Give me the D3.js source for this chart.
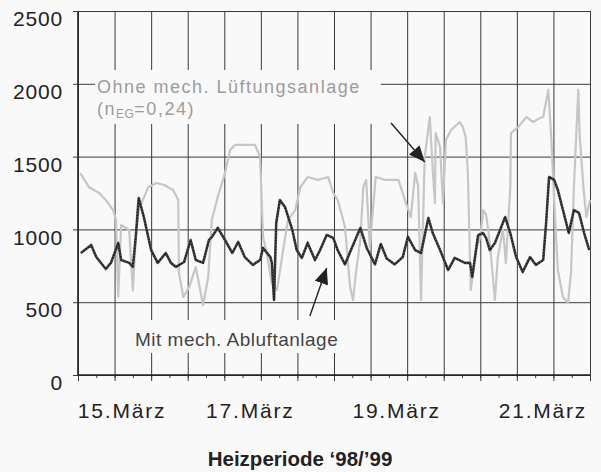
<!DOCTYPE html>
<html>
<head>
<meta charset="utf-8">
<style>
  body { margin: 0; background: #f9f9f9; }
  svg { display: block; font-family: "Liberation Sans", Arial, sans-serif; }
  .grid line { stroke: #3a3a3a; stroke-width: 1; }
  .grid path, .ticks path, .labels path { display: none; }
  .ticks line { stroke: #3a3a3a; }
</style>
</head>
<body>
<div id="chart"></div>
<script src="https://d3js.org/d3.v7.min.js"></script>
<script>
// Tage im März (Dezimalwerte), gelesen aus der Grafik
var tageMit = [14.54,14.68,14.75,14.88,14.95,15.05,15.09,15.20,15.25,15.29,15.33,15.40,15.50,15.59,15.70,15.77,15.84,15.95,
  16.04,16.11,16.21,16.29,16.33,16.41,16.51,16.61,16.69,16.78,16.89,16.99,17.03,17.13,17.15,17.18,17.21,17.26,17.33,17.43,
  17.49,17.56,17.64,17.74,17.81,17.90,17.99,18.05,18.15,18.25,18.36,18.45,18.56,18.64,18.72,18.83,18.94,19.01,19.11,19.19,
  19.29,19.35,19.45,19.56,19.65,19.79,19.86,19.89,19.97,20.04,20.08,20.13,20.20,20.34,20.41,20.49,20.58,20.68,20.76,20.86,
  20.90,20.94,21.01,21.06,21.13,21.21,21.28,21.35,21.42,21.49];
var werteMit = [838,893,810,728,770,907,790,770,742,948,1216,1085,858,770,838,770,742,776,
  927,790,770,927,948,1010,927,838,914,810,756,790,872,810,770,515,1044,1202,1154,996,
  858,804,907,790,858,962,941,858,760,880,1010,870,760,900,800,760,810,948,858,838,
  1079,975,858,721,804,770,770,673,960,975,940,858,907,1085,975,810,708,810,756,790,
  1044,1360,1340,1271,1133,975,1133,1113,975,858];

var tageOhne = [14.53,14.65,14.79,14.88,14.98,15.02,15.05,15.09,15.20,15.25,15.29,15.33,15.46,15.57,15.68,15.80,15.87,15.88,
  15.94,16.02,16.11,16.21,16.28,16.33,16.41,16.51,16.58,16.65,16.78,16.92,16.99,17.03,17.08,17.15,17.22,17.29,17.37,17.47,
  17.54,17.64,17.78,17.92,17.99,18.05,18.10,18.15,18.22,18.26,18.30,18.36,18.40,18.44,18.49,18.57,18.70,18.88,18.97,19.05,
  19.11,19.15,19.19,19.24,19.31,19.35,19.38,19.39,19.45,19.49,19.53,19.60,19.72,19.76,19.80,19.83,19.87,19.94,20.00,20.04,
  20.08,20.13,20.20,20.24,20.31,20.35,20.41,20.42,20.52,20.63,20.72,20.82,20.86,20.93,20.97,21.01,21.06,21.13,21.20,21.24,
  21.28,21.34,21.36,21.41,21.45,21.50];
var werteOhne = [1387,1290,1250,1202,1133,1065,540,1030,996,580,950,1133,1290,1319,1305,1271,1202,700,
  536,604,742,480,673,1065,1223,1388,1546,1580,1580,1580,1498,948,838,632,584,810,1065,1133,
  1290,1360,1340,1360,1250,1202,1113,1017,604,515,700,927,1290,1340,879,1360,1340,1340,1202,1085,
  1388,1300,515,1498,1772,1408,1181,1662,1566,1181,1614,1683,1738,1704,1635,1388,584,858,948,1133,
  1100,907,515,810,1000,770,1290,1662,1704,1772,1738,1766,1772,1958,1635,1200,721,536,495,700,
  1290,1958,1635,1290,1085,1202];

var yTicks = [0, 500, 1000, 1500, 2000, 2500];
var halbTage = d3.range(14.5, 21.51, 0.5);
var viertelTage = d3.range(14.5, 21.51, 0.25);
var tagLabels = [15, 17, 19, 21];

var margin = {top: 11, right: 11, bottom: 97, left: 78},
    width = 601 - margin.left - margin.right,
    height = 472 - margin.top - margin.bottom;

var svg = d3.select("#chart").append("svg")
    .attr("width", 601)
    .attr("height", 472);

var g = svg.append("g")
    .attr("transform", "translate(" + margin.left + "," + margin.top + ")");

var x = d3.scaleLinear().domain([14.5, 21.5]).range([0, width]);
var y = d3.scaleLinear().domain([0, 2500]).range([height, 0]);

// Gitter
g.append("g").attr("class", "grid")
    .attr("transform", "translate(0," + height + ")")
    .call(d3.axisBottom(x).tickValues(halbTage).tickSize(-height).tickFormat(""));
g.append("g").attr("class", "grid")
    .call(d3.axisLeft(y).tickValues(yTicks).tickSize(-width).tickFormat(""));

// kleine Striche nach außen
g.append("g").attr("class", "ticks")
    .attr("transform", "translate(0," + height + ")")
    .call(d3.axisBottom(x).tickValues(viertelTage).tickSize(3).tickFormat(""));
g.append("g").attr("class", "ticks")
    .attr("transform", "translate(0," + height + ")")
    .call(d3.axisBottom(x).tickValues(halbTage).tickSize(6).tickFormat(""));

// Achsenlinien
g.append("line").attr("x1", 0).attr("x2", 0).attr("y1", 0).attr("y2", height)
    .attr("stroke", "#222").attr("stroke-width", 1.6);
g.append("line").attr("x1", 0).attr("x2", width).attr("y1", height).attr("y2", height)
    .attr("stroke", "#222").attr("stroke-width", 1.6);

// Y-Beschriftung
var yAxis = g.append("g").attr("class", "ticks")
    .call(d3.axisLeft(y).tickValues(yTicks).tickSize(5).tickPadding(10).tickFormat(d3.format("d")));
yAxis.selectAll("text")
    .attr("dy", "0.7em")
    .style("font-size", "21px")
    .style("letter-spacing", "0.8px")
    .style("fill", "#222");

// X-Beschriftung
var xAxis = g.append("g").attr("class", "labels")
    .attr("transform", "translate(0," + height + ")")
    .call(d3.axisBottom(x).tickValues(tagLabels).tickSize(0).tickPadding(28)
      .tickFormat(function(d) { return d + ".März"; }));
xAxis.selectAll("text")
    .attr("dx", function(d) { return d === 15 ? 7 : -11; })
    .style("font-size", "21px")
    .style("letter-spacing", "1.8px")
    .style("fill", "#222");

// Flächen hinter den Beschriftungen
g.append("rect").attr("x", 17).attr("y", 59).attr("width", 286).attr("height", 54)
    .attr("fill", "#f9f9f9");
g.append("rect").attr("x", 47).attr("y", 309).attr("width", 235).attr("height", 33)
    .attr("fill", "#f9f9f9");

// Linien
var lineOhne = d3.line()
    .x(function(d, i) { return x(tageOhne[i]); })
    .y(function(d) { return y(d); });
var lineMit = d3.line()
    .x(function(d, i) { return x(tageMit[i]); })
    .y(function(d) { return y(d); });

g.append("path")
    .datum(werteOhne)
    .attr("d", lineOhne)
    .attr("fill", "none")
    .attr("stroke", "#c6c6c6")
    .attr("stroke-width", 2.2)
    .attr("stroke-linejoin", "round");

g.append("path")
    .datum(werteMit)
    .attr("d", lineMit)
    .attr("fill", "none")
    .attr("stroke", "#4a4a4a")
    .attr("stroke-width", 2.6)
    .attr("stroke-linejoin", "round");
g.append("path")
    .datum(werteMit)
    .attr("d", lineMit)
    .attr("fill", "none")
    .attr("stroke", "#1a1a1a")
    .attr("stroke-width", 1.6)
    .attr("stroke-dasharray", "1.5,1.5");

// Beschriftungen
g.append("text")
    .attr("x", 19).attr("y", 82)
    .style("font-size", "18px")
    .style("letter-spacing", "1.5px")
    .style("fill", "#9c9c9c")
    .text("Ohne mech. Lüftungsanlage");
var nEg = g.append("text")
    .attr("x", 19).attr("y", 104)
    .style("font-size", "18px")
    .style("letter-spacing", "1.5px")
    .style("fill", "#9c9c9c");
nEg.append("tspan").text("(n");
nEg.append("tspan").attr("dy", 3).style("font-size", "12px").style("letter-spacing", "0.5px").text("EG");
nEg.append("tspan").attr("dy", -3).text("=0,24)");

g.append("text")
    .attr("x", 57).attr("y", 335)
    .style("font-size", "19px")
    .style("letter-spacing", "0.5px")
    .style("fill", "#444")
    .text("Mit mech. Abluftanlage");

// Pfeile
svg.append("defs").append("marker")
    .attr("id", "spitze")
    .attr("viewBox", "-16 -8 18 16")
    .attr("refX", 0).attr("refY", 0)
    .attr("markerWidth", 18).attr("markerHeight", 16)
    .attr("markerUnits", "userSpaceOnUse")
    .attr("orient", "auto")
  .append("path")
    .attr("d", "M0,0L-16,-7L-16,7Z")
    .attr("fill", "#222");

var pfeile = [
  {von: [18.78, 1731], nach: [19.24, 1463]},
  {von: [17.67, 405], nach: [17.90, 735]}
];
g.selectAll(".pfeil")
  .data(pfeile)
  .enter()
  .append("line")
    .attr("class", "pfeil")
    .attr("x1", function(d) { return x(d.von[0]); })
    .attr("y1", function(d) { return y(d.von[1]); })
    .attr("x2", function(d) { return x(d.nach[0]); })
    .attr("y2", function(d) { return y(d.nach[1]); })
    .attr("stroke", "#222")
    .attr("stroke-width", 1.4)
    .attr("marker-end", "url(#spitze)");

// Titel
svg.append("text")
    .attr("x", 300).attr("y", 466)
    .attr("text-anchor", "middle")
    .style("font-size", "20.5px")
    .style("font-weight", "bold")
    .style("fill", "#222")
    .text("Heizperiode ‘98/’99");
</script>
</body>
</html>
